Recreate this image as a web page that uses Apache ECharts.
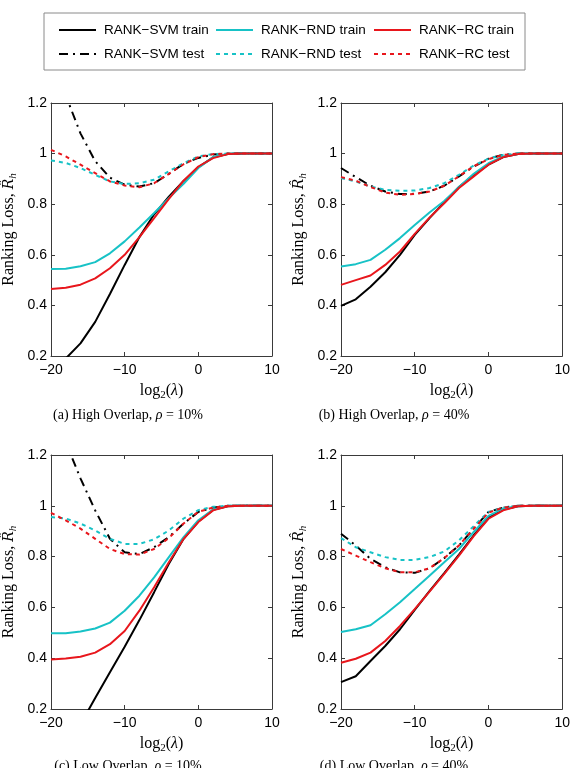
<!DOCTYPE html>
<html lang="en">
<head>
    <meta charset="UTF-8">
    <title>Ranking Loss vs log2(lambda)</title>
    <script src="https://cdn.jsdelivr.net/npm/echarts@6.0.0/dist/echarts.min.js"></script>
    <style>
        html, body { margin: 0; padding: 0; background: #fff; }
        #chart { width: 573px; height: 768px; }
    </style>
</head>
<body>
    <div id="chart"></div>

    <script>
        // x values: log2(lambda)
        const lambdaLog2 = [-20, -18, -16, -14, -12, -10, -8, -6, -4, -2, 0, 2, 4, 6, 8, 10];
        const xTicks = [-20, -10, 0, 10];
        const yTicks = [0.2, 0.4, 0.6, 0.8, 1, 1.2];

        // (a) High Overlap, rho = 10%
        const aSvmTrain = [0.15, 0.19, 0.25, 0.335, 0.445, 0.56, 0.67, 0.76, 0.83, 0.892, 0.946, 0.985, 0.998, 1, 1, 1];
        const aSvmTest  = [1.40, 1.23, 1.08, 0.97, 0.905, 0.877, 0.87, 0.883, 0.92, 0.96, 0.983, 0.996, 1, 1, 1, 1];
        const aRndTrain = [0.544, 0.545, 0.555, 0.571, 0.606, 0.653, 0.708, 0.765, 0.824, 0.881, 0.943, 0.986, 1, 1, 1, 1];
        const aRndTest  = [0.973, 0.963, 0.943, 0.916, 0.89, 0.88, 0.883, 0.897, 0.93, 0.962, 0.989, 0.998, 1, 1, 1, 1];
        const aRcTrain  = [0.465, 0.47, 0.482, 0.507, 0.547, 0.60, 0.67, 0.745, 0.821, 0.893, 0.949, 0.982, 0.998, 1, 1, 1];
        const aRcTest   = [1.015, 0.989, 0.956, 0.923, 0.89, 0.874, 0.867, 0.883, 0.92, 0.958, 0.986, 0.998, 1, 1, 1, 1];

        // (b) High Overlap, rho = 40%
        const bSvmTrain = [0.398, 0.424, 0.474, 0.531, 0.60, 0.679, 0.745, 0.807, 0.868, 0.916, 0.956, 0.986, 0.998, 1, 1, 1];
        const bSvmTest  = [0.943, 0.907, 0.873, 0.85, 0.84, 0.841, 0.85, 0.873, 0.91, 0.949, 0.98, 0.995, 1, 1, 1, 1];
        const bRndTrain = [0.554, 0.563, 0.58, 0.62, 0.666, 0.718, 0.767, 0.813, 0.868, 0.92, 0.962, 0.989, 0.998, 1, 1, 1];
        const bRndTest  = [0.903, 0.89, 0.87, 0.857, 0.853, 0.854, 0.864, 0.883, 0.916, 0.953, 0.98, 0.995, 1, 1, 1, 1];
        const bRcTrain  = [0.481, 0.50, 0.518, 0.56, 0.613, 0.683, 0.747, 0.804, 0.864, 0.91, 0.956, 0.986, 0.998, 1, 1, 1];
        const bRcTest   = [0.907, 0.893, 0.868, 0.846, 0.837, 0.84, 0.85, 0.873, 0.91, 0.95, 0.978, 0.995, 1, 1, 1, 1];

        // (c) Low Overlap, rho = 10%
        const cSvmTrain = [0.03, 0.07, 0.14, 0.243, 0.345, 0.445, 0.55, 0.66, 0.772, 0.87, 0.938, 0.984, 0.998, 1, 1, 1];
        const cSvmTest  = [1.42, 1.25, 1.108, 0.982, 0.87, 0.817, 0.81, 0.837, 0.877, 0.93, 0.976, 0.993, 1, 1, 1, 1];
        const cRndTrain = [0.498, 0.498, 0.505, 0.517, 0.54, 0.587, 0.646, 0.718, 0.798, 0.877, 0.943, 0.985, 1, 1, 1, 1];
        const cRndTest  = [0.956, 0.95, 0.93, 0.903, 0.87, 0.85, 0.85, 0.868, 0.903, 0.95, 0.983, 0.996, 1, 1, 1, 1];
        const cRcTrain  = [0.395, 0.399, 0.406, 0.422, 0.455, 0.507, 0.587, 0.679, 0.778, 0.87, 0.936, 0.982, 0.998, 1, 1, 1];
        const cRcTest   = [0.972, 0.943, 0.91, 0.87, 0.83, 0.81, 0.808, 0.83, 0.873, 0.93, 0.976, 0.993, 1, 1, 1, 1];

        // (d) Low Overlap, rho = 40%
        const dSvmTrain = [0.306, 0.329, 0.389, 0.448, 0.514, 0.59, 0.664, 0.735, 0.808, 0.884, 0.952, 0.985, 0.998, 1, 1, 1];
        const dSvmTest  = [0.89, 0.844, 0.791, 0.758, 0.738, 0.736, 0.754, 0.794, 0.844, 0.91, 0.976, 0.993, 1, 1, 1, 1];
        const dRndTrain = [0.503, 0.514, 0.53, 0.573, 0.62, 0.672, 0.725, 0.778, 0.83, 0.897, 0.96, 0.989, 0.998, 1, 1, 1];
        const dRndTest  = [0.873, 0.837, 0.817, 0.798, 0.787, 0.787, 0.798, 0.82, 0.864, 0.92, 0.976, 0.993, 1, 1, 1, 1];
        const dRcTrain  = [0.382, 0.398, 0.422, 0.468, 0.527, 0.593, 0.662, 0.732, 0.804, 0.881, 0.949, 0.982, 0.998, 1, 1, 1];
        const dRcTest   = [0.83, 0.804, 0.778, 0.754, 0.738, 0.738, 0.754, 0.794, 0.844, 0.91, 0.973, 0.993, 1, 1, 1, 1];

        const seriesNames = ['RANK−SVM train', 'RANK−SVM test', 'RANK−RND train', 'RANK−RND test', 'RANK−RC train', 'RANK−RC test'];
        const captions = ['(a) High Overlap, ', '(b) High Overlap, ', '(c) Low Overlap, ', '(d) Low Overlap, '];
        const captionRho = ['10%', '40%', '10%', '40%'];

        const CYAN = '#17c2c6';
        const RED = '#e8161c';
        const lineStyles = [
            { color: '#000', type: 'solid' },
            { color: '#000', type: [9, 5, 2, 5] },
            { color: CYAN, type: 'solid' },
            { color: CYAN, type: [4, 4] },
            { color: RED, type: 'solid' },
            { color: RED, type: [4, 4] }
        ];

        const panels = [
            { box: { left: 49, top: 103, width: 223, height: 253 }, lines: [aSvmTrain, aSvmTest, aRndTrain, aRndTest, aRcTrain, aRcTest] },
            { box: { left: 341, top: 103, width: 223, height: 253 }, lines: [bSvmTrain, bSvmTest, bRndTrain, bRndTest, bRcTrain, bRcTest] },
            { box: { left: 49, top: 455, width: 223, height: 254 }, lines: [cSvmTrain, cSvmTest, cRndTrain, cRndTest, cRcTrain, cRcTest] },
            { box: { left: 341, top: 455, width: 223, height: 254 }, lines: [dSvmTrain, dSvmTest, dRndTrain, dRndTest, dRcTrain, dRcTest] }
        ];

        const SANS = 'Liberation Sans, Arial, Helvetica, sans-serif';
        const SERIF = 'Liberation Serif, Times New Roman, serif';
        const FRAME = '#3a3a3a';
        const minus = v => String(v).replace('-', '−');

        const chart = echarts.init(document.getElementById('chart'), null, { renderer: 'canvas' });

        const grid = [], xAxis = [], yAxis = [], series = [], graphic = [];

        panels.forEach((p, g) => {
            grid.push(Object.assign({ containLabel: false }, p.box));

            const axisLine = { show: true, onZero: false, lineStyle: { color: FRAME, width: 1 } };
            const tick = { show: true, inside: true, length: 4, lineStyle: { color: FRAME } };

            // bottom / top x axes
            xAxis.push({
                gridIndex: g, type: 'value', position: 'bottom', min: -20, max: 10, interval: 10,
                axisLine, axisTick: tick, splitLine: { show: false },
                axisLabel: { color: '#000', fontFamily: SANS, fontSize: 14, margin: 7, formatter: minus },
                name: '{n|log}{s|2}{n|(}{i|λ}{n|)}',
                nameLocation: 'middle', nameGap: 25,
                nameTextStyle: {
                    rich: {
                        n: { fontFamily: SERIF, fontSize: 16, color: '#000', lineHeight: 20 },
                        i: { fontFamily: SERIF, fontStyle: 'italic', fontSize: 16, color: '#000', lineHeight: 20 },
                        s: { fontFamily: SERIF, fontSize: 11, color: '#000', lineHeight: 11, verticalAlign: 'bottom' }
                    }
                }
            });
            xAxis.push({
                gridIndex: g, type: 'value', position: 'top', min: -20, max: 10, interval: 10,
                axisLine, axisTick: tick, axisLabel: { show: false }, splitLine: { show: false }
            });

            // left / right y axes
            yAxis.push({
                gridIndex: g, type: 'value', position: 'left', min: 0.2, max: 1.2, interval: 0.2,
                axisLine, axisTick: tick, splitLine: { show: false },
                axisLabel: { color: '#000', fontFamily: SANS, fontSize: 14, margin: 4 },
                name: '{n|Ranking Loss, }{i|R̂}{s|h}',
                nameLocation: 'middle', nameGap: 32, nameRotate: 90,
                nameTextStyle: {
                    rich: {
                        n: { fontFamily: SERIF, fontSize: 16, color: '#000', lineHeight: 20 },
                        i: { fontFamily: 'DejaVu Serif', fontStyle: 'italic', fontSize: 14, color: '#000', lineHeight: 20 },
                        s: { fontFamily: SERIF, fontStyle: 'italic', fontSize: 11, color: '#000', lineHeight: 11, verticalAlign: 'bottom' }
                    }
                }
            });
            yAxis.push({
                gridIndex: g, type: 'value', position: 'right', min: 0.2, max: 1.2, interval: 0.2,
                axisLine, axisTick: tick, axisLabel: { show: false }, splitLine: { show: false }
            });

            p.lines.forEach((vals, k) => {
                series.push({
                    name: seriesNames[k],
                    type: 'line',
                    xAxisIndex: 2 * g,
                    yAxisIndex: 2 * g,
                    data: lambdaLog2.map((x, i) => [x, vals[i]]),
                    symbol: 'none',
                    clip: true,
                    silent: true,
                    lineStyle: { color: lineStyles[k].color, type: lineStyles[k].type, width: 2 },
                    itemStyle: { color: lineStyles[k].color }
                });
            });

            // caption under each panel
            const cx = g % 2 === 0 ? 128 : 394;
            const cy = g < 2 ? 415 : 766;
            graphic.push({
                type: 'text', x: cx, y: cy,
                style: {
                    text: '{n|' + captions[g] + '}{i|ρ}{n| = ' + captionRho[g] + '}',
                    align: 'center', verticalAlign: 'middle',
                    rich: {
                        n: { fontFamily: SERIF, fontSize: 14, fill: '#000' },
                        i: { fontFamily: SERIF, fontStyle: 'italic', fontSize: 14, fill: '#000' }
                    }
                }
            });
        });

        // legend frame
        graphic.push({
            type: 'rect', shape: { x: 44, y: 13, width: 481, height: 57 },
            style: { fill: 'none', stroke: '#8a8a8a', lineWidth: 1 }
        });

        // three legend columns, two rows each
        const legendCols = [58, 215, 373];
        const legend = legendCols.map((left, c) => ({
            orient: 'vertical',
            left: left, top: 23, padding: 0,
            itemWidth: 37, itemHeight: 14, itemGap: 10,
            selectedMode: false,
            itemStyle: { opacity: 0 },
            data: [seriesNames[2 * c], seriesNames[2 * c + 1]],
            textStyle: { color: '#000', fontFamily: SANS, fontSize: 13.5, padding: [0, 0, 0, 3] }
        }));

        chart.setOption({
            animation: false,
            backgroundColor: '#fff',
            legend, grid, xAxis, yAxis, series, graphic
        });
    </script>
</body>
</html>
